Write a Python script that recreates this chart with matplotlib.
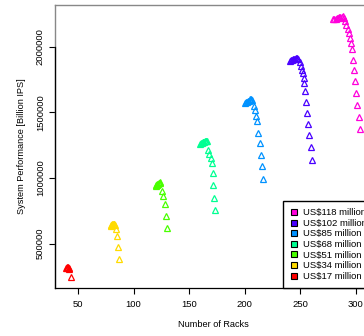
import matplotlib
matplotlib.use("Agg")
import matplotlib.pyplot as plt
from matplotlib.lines import Line2D

plt.rcParams['font.family'] = ['Liberation Sans', 'DejaVu Sans']

# budgets (million US$) and R rainbow(7) colours
budgets = [118, 102, 85, 68, 51, 34, 17]
colors = ['#FF00DB', '#4900FF', '#0092FF', '#00FF92', '#49FF00', '#FFDB00', '#FF0000']

# number of racks / system performance for each budget
racks_17 = [39.5, 40.0, 40.5, 41.0, 41.5, 42.0, 43.4]
perf_17 = [312000, 316000, 320000, 322000, 318000, 305000, 243000]

racks_34 = [79.5, 80.0, 80.5, 81.0, 81.5, 82.0, 82.5, 83.0, 84.2, 85.0, 86.3, 87.2]
perf_34 = [638000, 641000, 644000, 647000, 650000, 652000, 651000, 646000,
           612000, 556000, 474000, 385000]

racks_51 = [120.0, 120.5, 121.0, 121.5, 122.0, 122.5, 123.0, 123.5, 124.0,
            125.9, 126.8, 128.1, 129.0, 130.0]
perf_51 = [940000, 944000, 948000, 952000, 956000, 960000, 964000, 967000, 962000,
           904600, 866400, 799300, 711500, 617600]

racks_68 = [160.0, 160.7, 161.4, 162.1, 162.8, 163.5, 164.2, 164.9, 165.6, 166.3,
            167.4, 168.3, 169.5, 170.5, 171.2, 171.9, 172.5, 173.4]
perf_68 = [1262000, 1265000, 1268000, 1271000, 1274000, 1277000, 1280000, 1283000, 1284000, 1280000,
           1215000, 1185000, 1149000, 1114000, 1036000, 946000, 847000, 756000]

racks_85 = [200.5, 201.3, 202.1, 202.9, 203.7, 204.5, 205.3, 206.1, 206.9,
            208.8, 209.6, 210.6, 211.5, 212.4, 213.5, 214.4, 215.5, 216.4]
perf_85 = [1574000, 1578000, 1582000, 1586000, 1590000, 1594000, 1598000, 1601000, 1596000,
           1549000, 1515000, 1470000, 1431000, 1345000, 1269000, 1179000, 1091000, 996000]

racks_102 = [241.0, 241.9, 242.8, 243.7, 244.6, 245.5, 246.4, 247.3, 248.2,
             250.0, 250.9, 251.8, 252.7, 253.3, 253.9, 254.8, 255.7, 256.6, 257.5,
             258.4, 259.6, 260.8]
perf_102 = [1894000, 1897000, 1900000, 1903000, 1906000, 1909000, 1912000, 1914000, 1910000,
            1885000, 1853000, 1822000, 1796000, 1763000, 1725000, 1666000, 1582000, 1498000,
            1414000, 1325000, 1234000, 1139000]

racks_118 = [279.7, 280.8, 281.9, 283.0, 284.1, 285.2, 286.3, 287.4, 288.5, 289.6,
             290.8, 291.7, 293.0, 293.9, 294.8, 295.7, 296.8, 297.7, 298.6, 299.5,
             300.5, 301.4, 302.9, 303.8]
perf_118 = [2208000, 2211000, 2214000, 2217000, 2220000, 2223000, 2226000, 2229000, 2230000, 2222000,
            2195000, 2162000, 2131000, 2106000, 2068000, 2030000, 1979000, 1902000, 1821000,
            1737000, 1648000, 1554000, 1465000, 1373000]

series = [(racks_118, perf_118), (racks_102, perf_102), (racks_85, perf_85),
          (racks_68, perf_68), (racks_51, perf_51), (racks_34, perf_34), (racks_17, perf_17)]

xticks = [50, 100, 150, 200, 250, 300]
yticks = [500000, 1000000, 1500000, 2000000]

W, H = 364, 336
fig = plt.figure(figsize=(W / 100, H / 100), dpi=100)
# axes box runs past the right edge of the picture (the original is cropped)
ax = fig.add_axes([55 / W, (H - 288) / H, 317 / W, 283 / H])

for (rx, py), col in zip(series, colors):
    ax.plot(rx, py, linestyle='none', marker='^', markersize=4.6,
            markerfacecolor='none', markeredgecolor=col, markeredgewidth=0.9)

ax.set_xlim(29.3, 314.7)
ax.set_ylim(162700, 2317500)
ax.set_xticks(xticks)
ax.set_yticks(yticks)
ax.set_xticklabels([str(t) for t in xticks], fontsize=6.8)
ax.set_yticklabels([str(t) for t in yticks], fontsize=6.8, rotation=90, va='center')
ax.tick_params(axis='both', direction='out', length=4.3, width=0.8, color='black', pad=3)
ax.tick_params(axis='x', pad=4)

for s in ['top', 'right', 'left']:
    ax.spines[s].set_color('#888888')
    ax.spines[s].set_linewidth(1.0)
ax.spines['bottom'].set_color('black')
ax.spines['bottom'].set_linewidth(0.9)
# black axis line over the tick range on the left
ax.plot([29.3, 29.3], [162700, 2000000], color='black', lw=0.9, clip_on=False, zorder=3)

ax.set_xlabel('Number of Racks', fontsize=6.6, labelpad=8)
ax.set_ylabel('System Performance [Billion IPS]', fontsize=6.6, labelpad=7)

handles = [Line2D([], [], linestyle='none', marker='s', markersize=5,
                  markerfacecolor=c, markeredgecolor='black', markeredgewidth=0.8)
           for c in colors]
labels = [r'US\$%d million' % b for b in budgets]
leg = fig.legend(handles, labels, loc='lower left',
                 bbox_to_anchor=(282.7 / W, (H - 288) / H), bbox_transform=fig.transFigure,
                 fontsize=6.8, frameon=True, fancybox=False, borderpad=0.75,
                 labelspacing=0.17, handlelength=0.9, handletextpad=0.55,
                 borderaxespad=0)
leg.get_frame().set_edgecolor('black')
leg.get_frame().set_linewidth(1.0)
leg.get_frame().set_alpha(1)

fig.savefig('out.png', dpi=100)
